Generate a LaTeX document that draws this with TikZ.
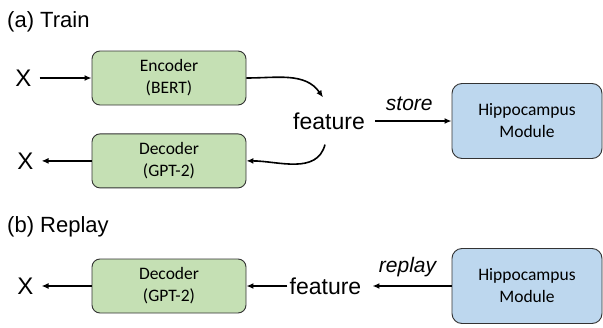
\documentclass[tikz,border=0pt]{standalone}
\usepackage{fontspec}
\setmainfont{Liberation Sans}
\newfontfamily\boxfont{Carlito}
\usepackage{tikz}
\usetikzlibrary{arrows.meta, positioning}

\definecolor{encgreen}{HTML}{C5E0B4}
\definecolor{hipblue}{HTML}{BDD7EE}

\begin{document}
\begin{tikzpicture}[
  x=1pt, y=-1pt,
  block/.style={rectangle, draw=black!80, line width=0.9pt, rounded corners=8pt, minimum height=54pt,
                minimum width=154pt, align=center, fill=encgreen, inner sep=0pt,
                font=\boxfont\fontsize{17.5}{22}\selectfont},
  memory/.style={block, fill=hipblue, minimum height=75pt, minimum width=150pt, rounded corners=10pt},
  xlabel/.style={inner xsep=8pt, inner ysep=2pt, font=\fontsize{24}{28}\selectfont},
  featlabel/.style={inner xsep=2pt, inner ysep=15pt, font=\fontsize{23}{27}\selectfont},
  title/.style={anchor=base west, inner sep=0pt, font=\fontsize{22}{26}\selectfont},
  edgelabel/.style={inner sep=2pt, font=\itshape\fontsize{21}{25}\selectfont},
  arr/.style={-{Latex[length=7pt, width=6pt]}, line width=1.6pt},
]
  \useasboundingbox (0,0) rectangle (603,327);

  % (a) training
  \node[title] (titlea) at (7,27) {(a) Train};
  \node[block] (enc) at (169,78) {Encoder\\(BERT)};
  \node[block, below=28pt of enc] (deca) {Decoder\\(GPT-2)};
  \node[xlabel, left=52pt of enc] (xin) {X};
  \node[xlabel, left=50pt of deca] (xout) {X};
  \node[featlabel] (feata) at (329,121) {feature};
  \node[memory] (hipa) at (527,121) {Hippocampus\\Module};
  \draw[arr] (xin) -- (enc);
  \draw[arr] (enc.east) to[out=0, in=125] ([xshift=-6pt]feata.north);
  \draw[arr] ([xshift=-4pt]feata.south) to[out=-105, in=0] (deca.east);
  \draw[arr] (deca) -- (xout);
  \draw[arr, shorten <=8pt] (feata.east) -- (hipa.west)
    node[edgelabel, midway, above=7pt] {store};

  % (b) replay
  \node[title] (titleb) at (7,232) {(b) Replay};
  \node[block] (decb) at (169,286) {Decoder\\(GPT-2)};
  \node[xlabel, left=50pt of decb] (xb) {X};
  \node[featlabel, right=41pt of decb] (featb) {feature};
  \node[memory] (hipb) at (527,286) {Hippocampus\\Module};
  \draw[arr, shorten >=9pt] (hipb.west) -- (featb.east)
    node[edgelabel, midway, above=6pt] {replay};
  \draw[arr] (featb) -- (decb);
  \draw[arr] (decb) -- (xb);
\end{tikzpicture}
\end{document}
